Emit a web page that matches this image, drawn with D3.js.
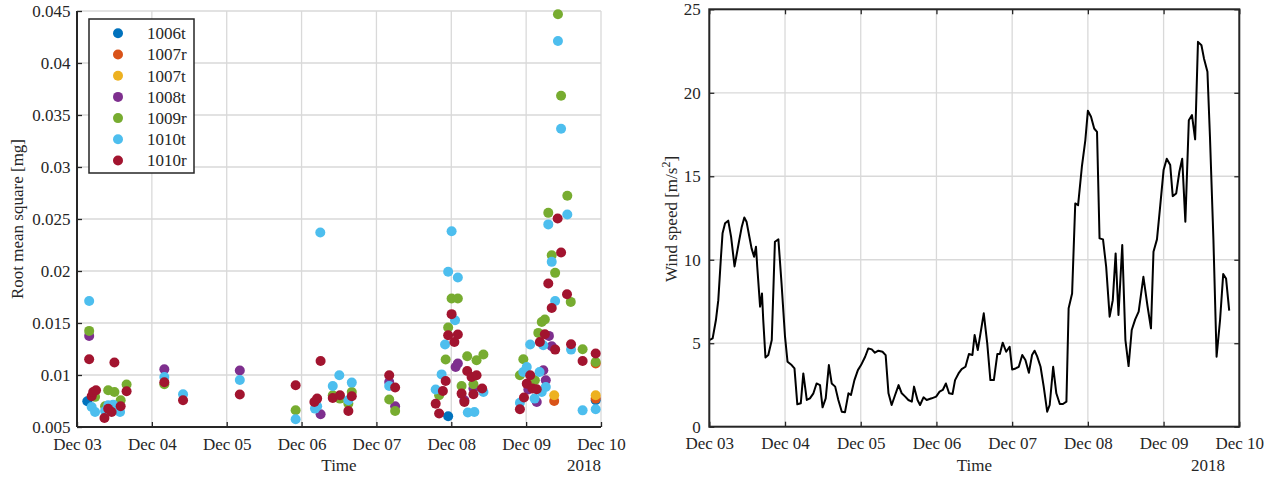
<!DOCTYPE html>
<html><head><meta charset="utf-8">
<script src="https://cdn.jsdelivr.net/npm/d3@7"></script>
<style>
body{margin:0;background:#fff;}
svg text{font-family:"Liberation Serif","Times New Roman",serif;fill:#262626;}
</style></head>
<body><svg id="c" width="1279" height="480"></svg>
<script>
// ---------- DATA ----------
const startUTC = Date.UTC(2018, 11, 3); // Dec 03 2018
const dayTicks = [0,1,2,3,4,5,6,7];
const seriesNames = ["1006t","1007r","1007t","1008t","1009r","1010t","1010r"];
const seriesColors = ["#0072BD","#D95319","#EDB120","#7E2F8E","#77AC30","#4DBEEE","#A2142F"];
const rmsTicks = [0.005,0.01,0.015,0.02,0.025,0.03,0.035,0.04,0.045];
const rmsTickLabels = ["0.005","0.01","0.015","0.02","0.025","0.03","0.035","0.04","0.045"];
const windTicks = [0,5,10,15,20,25];

// hours since Dec 03 00:00 and RMS values [mg]
const h1006t = [3.3,119.0,166.3];
const v1006t = [0.00747,0.00603,0.00757];
const h1007r = [153.0,166.3,166.3];
const v1007r = [0.0075,0.00773,0.0111];
const h1007t = [153.0,166.3];
const v1007t = [0.00805,0.00805];
const h1008t = [3.9,28.0,52.2,78.1,100.1,102.0,121.4,122.1,124.2,127.1,151.3,152.2,149.5,150.3,144.7,147.4];
const v1008t = [0.01376,0.01055,0.01043,0.00622,0.00933,0.00699,0.01077,0.0111,0.00757,0.0087,0.01376,0.01276,0.01046,0.00949,0.0086,0.0074];
const h1009r = [3.9,5.8,9.0,10.0,12.0,14.0,15.9,28.0,70.1,82.0,84.3,87.0,88.1,100.1,102.0,116.1,118.2,119.0,120.1,122.1,123.3,125.1,127.1,128.1,130.3,142.0,143.1,146.8,147.9,149.0,150.0,151.1,152.2,153.3,154.2,155.2,157.2,158.3,162.1,166.3];
const v1009r = [0.01424,0.0079,0.007,0.00853,0.00837,0.00757,0.00908,0.00911,0.00661,0.00805,0.00773,0.00725,0.00837,0.00764,0.00654,0.00805,0.01149,0.01457,0.01736,0.01736,0.00895,0.0118,0.00911,0.01142,0.01197,0.00998,0.01152,0.00949,0.01405,0.0151,0.01533,0.02559,0.02152,0.01982,0.04468,0.03685,0.02723,0.01703,0.01248,0.01125];
const h1010t = [3.9,4.7,5.8,9.0,10.0,11.6,13.8,28.0,34.0,52.2,70.1,76.3,77.0,78.0,82.0,84.1,87.0,88.1,100.1,115.0,116.9,118.0,119.0,120.1,121.2,122.1,125.3,127.4,130.3,142.0,143.1,144.2,145.3,146.7,148.3,149.0,149.5,150.3,151.1,152.2,153.3,154.2,155.2,157.2,158.4,162.1,166.3];
const v1010t = [0.01712,0.00692,0.00644,0.00654,0.00709,0.00715,0.00644,0.00981,0.00815,0.00952,0.00574,0.00677,0.00699,0.02371,0.00895,0.00997,0.00757,0.00927,0.00895,0.0086,0.01006,0.01293,0.01992,0.02383,0.01527,0.01938,0.00639,0.00644,0.00837,0.00734,0.01029,0.01077,0.01293,0.00773,0.01029,0.00837,0.01286,0.00885,0.02448,0.02088,0.01712,0.04212,0.03368,0.02544,0.01244,0.0066,0.0067];
const h1010r = [3.9,4.7,5.2,6.1,8.8,10.0,11.1,12.0,14.0,15.9,28.0,34.0,52.2,70.1,76.1,77.0,78.1,82.0,84.3,87.0,88.1,100.1,102.0,115.0,116.1,117.3,118.2,119.0,120.1,121.0,122.1,123.3,124.2,125.1,126.5,127.1,128.1,129.9,142.0,143.3,144.2,145.3,146.0,147.4,148.4,150.0,151.1,152.2,153.3,154.1,155.2,157.1,158.4,162.1,166.3];
const v1010r = [0.01151,0.00795,0.00837,0.00853,0.00587,0.00676,0.00644,0.0112,0.00699,0.00844,0.0093,0.00757,0.00812,0.00901,0.0074,0.00773,0.01135,0.00779,0.00805,0.00654,0.00795,0.00998,0.00879,0.00724,0.00629,0.00846,0.00942,0.01382,0.01585,0.01318,0.01389,0.00821,0.0074,0.01039,0.00981,0.00815,0.00997,0.0087,0.0067,0.00783,0.00917,0.00998,0.0087,0.00863,0.01318,0.01392,0.0188,0.01645,0.01244,0.02505,0.02178,0.01777,0.01296,0.01135,0.01206];

// wind speed: hours since Dec 03 00:00 and speed
const windHours = [0,1.06,2.1,2.85,3.7,4.2,5.0,6.0,6.9,8.0,9.5,10.3,11.1,11.8,12.7,13.4,14.2,14.8,15.2,16.1,16.7,17.1,17.8,18.7,19.8,20.8,21.9,22.9,24.0,24.8,26.1,27.0,27.9,29.0,29.8,30.9,31.9,33.0,34.0,35.1,35.9,36.9,37.9,38.8,39.9,40.9,42.0,43.0,44.1,44.9,46.0,47.1,48.1,49.4,50.4,51.5,52.5,53.6,54.9,55.9,56.8,57.8,58.9,60.0,61.0,62.1,63.1,64.2,64.9,66.0,66.8,67.9,68.9,70.5,71.9,73.0,74.0,75.0,76.0,77.1,77.9,79.0,80.0,81.2,82.3,83.4,84.1,85.1,87.0,88.1,89.1,90.2,91.3,92.1,93.0,94.1,95.2,96.0,97.1,98.1,99.2,100.2,101.3,102.3,103.1,103.9,105.0,106.0,107.1,107.9,109.0,110.0,111.1,112.1,113.2,113.9,115.0,116.0,116.9,118.1,119.2,120.0,121.0,122.0,122.9,123.7,124.8,125.8,126.9,127.9,128.8,129.7,130.9,131.9,132.9,133.9,135.0,136.1,137.6,138.9,140.0,140.8,141.9,142.9,144.0,145.0,146.1,146.9,148.0,149.0,149.9,150.9,152.0,153.0,154.0,154.9,156.0,156.8,157.9,158.7,159.8,160.8,161.9,162.9,163.8,164.8];
const windSpeed = [5.19,5.29,6.39,7.58,10.18,11.58,12.18,12.34,11.38,9.6,11.18,11.98,12.53,12.28,11.38,10.68,10.18,10.78,9.58,7.19,7.98,6.39,4.15,4.29,5.19,11.08,11.22,8.58,5.39,3.89,3.69,3.49,1.34,1.40,3.19,1.60,1.70,2.00,2.59,2.49,1.16,1.70,3.69,2.59,2.40,1.60,0.90,0.86,2.00,1.90,2.79,3.39,3.69,4.19,4.69,4.63,4.43,4.55,4.49,4.29,2.00,1.30,1.90,2.49,2.00,1.80,1.60,1.50,2.40,1.60,1.30,1.76,1.60,1.70,1.80,2.10,2.20,2.59,2.00,1.96,2.79,3.19,3.45,3.59,4.35,4.29,5.49,4.59,6.79,4.99,2.79,2.79,4.35,4.35,5.03,4.49,4.79,3.43,3.49,3.59,4.29,3.99,3.23,4.29,4.55,4.23,3.59,2.40,0.90,1.30,3.59,2.00,1.36,1.36,1.50,7.09,7.98,13.37,13.27,15.57,17.17,18.92,18.56,17.86,17.66,11.28,11.22,9.58,6.59,7.58,10.38,6.69,10.88,5.19,3.63,5.79,6.43,6.89,8.98,7.23,5.89,10.48,11.22,13.17,15.37,16.05,15.67,13.81,13.97,15.27,16.05,12.28,18.36,18.66,17.21,23.05,22.85,22.06,21.26,17.37,11.18,4.19,6.39,9.14,8.88,6.95];

// ---------- HELPERS ----------
const toDate = h => new Date(startUTC + h * 3600e3);
const dayDates = dayTicks.map(d => toDate(d * 24));
const fmtDay = d3.utcFormat("%b %d");
const axisCol = "#262626", gridCol = "#d9d9d9";
const FS = 17;
const svg = d3.select("#c");

function pairs(hs, vs){ return hs.map((h,i)=>({t:toDate(h), v:vs[i]})); }
const rmsSeries = [
  pairs(h1006t,v1006t), pairs(h1007r,v1007r), pairs(h1007t,v1007t),
  pairs(h1008t,v1008t), pairs(h1009r,v1009r), pairs(h1010t,v1010t), pairs(h1010r,v1010r)
];
function styleAxis(a){
  a.select(".domain").remove();
  a.selectAll(".tick line").attr("stroke", axisCol).attr("stroke-width", 1.3);
  a.selectAll("text").attr("font-size", FS).attr("fill", axisCol)
   .style("font-family", '"Liberation Serif",serif');
}

// ---------- LEFT CHART ----------
const L = {l:77, r:601, t:11, b:427};
const xL = d3.scaleUtc().domain([dayDates[0], dayDates[7]]).range([L.l, L.r]);
const yL = d3.scaleLinear().domain([0.005, 0.045]).range([L.b, L.t]);
const gL = svg.append("g");

gL.append("g").selectAll("line").data(dayDates).join("line")
  .attr("x1", d=>xL(d)).attr("x2", d=>xL(d)).attr("y1", L.t).attr("y2", L.b)
  .attr("stroke", gridCol).attr("stroke-width", 1.3);
gL.append("g").selectAll("line").data(rmsTicks).join("line")
  .attr("x1", L.l).attr("x2", L.r).attr("y1", d=>yL(d)).attr("y2", d=>yL(d))
  .attr("stroke", gridCol).attr("stroke-width", 1.3);

const axLy = gL.append("g").attr("transform", `translate(${L.l},0)`)
  .call(d3.axisLeft(yL).tickValues(rmsTicks).tickFormat((d,i)=>rmsTickLabels[i]).tickSize(-5).tickPadding(6.5));
const axLx = gL.append("g").attr("transform", `translate(0,${L.b})`)
  .call(d3.axisBottom(xL).tickValues(dayDates).tickFormat(fmtDay).tickSize(-5).tickPadding(10.5));
styleAxis(axLy); styleAxis(axLx);
gL.append("line").attr("x1", L.l).attr("x2", L.l).attr("y1", L.t).attr("y2", L.b)
  .attr("stroke", axisCol).attr("stroke-width", 2);
gL.append("line").attr("x1", L.l).attr("x2", L.r).attr("y1", L.b).attr("y2", L.b)
  .attr("stroke", axisCol).attr("stroke-width", 2);

rmsSeries.forEach((s, i) => {
  gL.append("g").selectAll("circle").data(s).join("circle")
    .attr("cx", d=>xL(d.t)).attr("cy", d=>yL(d.v)).attr("r", 5)
    .attr("fill", seriesColors[i]);
});

// legend
const lg = gL.append("g");
lg.append("rect").attr("x", 89).attr("y", 19).attr("width", 105).attr("height", 154)
  .attr("fill", "#fff").attr("stroke", axisCol).attr("stroke-width", 1.5);
seriesNames.forEach((n, i) => {
  const y = 33.3 + i * 21.2;
  lg.append("circle").attr("cx", 118).attr("cy", y).attr("r", 5).attr("fill", seriesColors[i]);
  lg.append("text").attr("x", 147).attr("y", y).attr("dy", "0.35em").attr("font-size", FS).text(n);
});

gL.append("text").attr("x", (L.l+L.r)/2).attr("y", 471).attr("text-anchor", "middle").attr("font-size", FS).text("Time");
gL.append("text").attr("x", L.r).attr("y", 471).attr("text-anchor", "end").attr("font-size", FS).text("2018");
gL.append("text").attr("transform", "translate(23,219) rotate(-90)").attr("text-anchor", "middle")
  .attr("font-size", FS).text("Root mean square [mg]");

// ---------- RIGHT CHART ----------
const R = {l:709.3, r:1239.3, t:9.3, b:426.7};
const xR = d3.scaleUtc().domain([dayDates[0], dayDates[7]]).range([R.l, R.r]);
const yR = d3.scaleLinear().domain([0, 25]).range([R.b, R.t]);
const gR = svg.append("g");

gR.append("g").selectAll("line").data(dayDates).join("line")
  .attr("x1", d=>xR(d)).attr("x2", d=>xR(d)).attr("y1", R.t).attr("y2", R.b)
  .attr("stroke", gridCol).attr("stroke-width", 1.3);
gR.append("g").selectAll("line").data(windTicks).join("line")
  .attr("x1", R.l).attr("x2", R.r).attr("y1", d=>yR(d)).attr("y2", d=>yR(d))
  .attr("stroke", gridCol).attr("stroke-width", 1.3);

const axRy = gR.append("g").attr("transform", `translate(${R.l},0)`)
  .call(d3.axisLeft(yR).tickValues(windTicks).tickFormat(d3.format("d")).tickSize(-5).tickPadding(8.6));
const axRy2 = gR.append("g").attr("transform", `translate(${R.r},0)`)
  .call(d3.axisRight(yR).tickValues(windTicks).tickFormat("").tickSize(-5));
const axRx = gR.append("g").attr("transform", `translate(0,${R.b})`)
  .call(d3.axisBottom(xR).tickValues(dayDates).tickFormat(fmtDay).tickSize(-5).tickPadding(10.5));
const axRx2 = gR.append("g").attr("transform", `translate(0,${R.t})`)
  .call(d3.axisTop(xR).tickValues(dayDates).tickFormat("").tickSize(-5));
[axRy, axRy2, axRx, axRx2].forEach(styleAxis);

const line = d3.line().x(d=>xR(d.t)).y(d=>yR(d.v));
gR.append("path").datum(pairs(windHours, windSpeed)).attr("d", line)
  .attr("fill", "none").attr("stroke", "#000").attr("stroke-width", 2).attr("stroke-linejoin", "round");

gR.append("rect").attr("x", R.l).attr("y", R.t).attr("width", R.r-R.l).attr("height", R.b-R.t)
  .attr("fill", "none").attr("stroke", axisCol).attr("stroke-width", 2);

gR.append("text").attr("x", (R.l+R.r)/2).attr("y", 471).attr("text-anchor", "middle").attr("font-size", FS).text("Time");
gR.append("text").attr("x", 1225).attr("y", 471).attr("text-anchor", "end").attr("font-size", FS).text("2018");
const yl = gR.append("text").attr("transform", "translate(677,219) rotate(-90)").attr("text-anchor", "middle")
  .attr("font-size", FS);
yl.append("tspan").text("Wind speed [m/s");
yl.append("tspan").attr("font-size", 12).attr("dy", -7).text("2");
yl.append("tspan").attr("dy", 7).text("]");
</script></body></html>
